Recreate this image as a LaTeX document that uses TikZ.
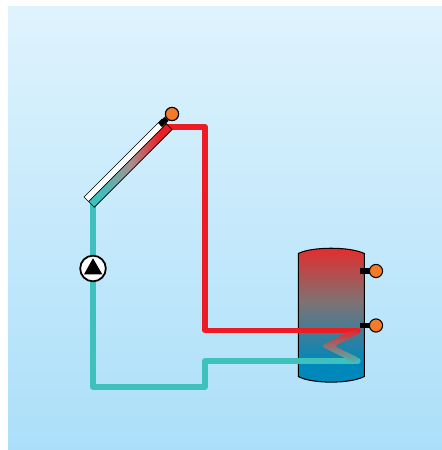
\documentclass[tikz,border=0pt]{standalone}
\usetikzlibrary{positioning, calc}
\definecolor{skytop}{HTML}{DFF3FD}
\definecolor{skybot}{HTML}{ABDFF9}
\definecolor{hotred}{HTML}{ED1C24}
\definecolor{coldteal}{HTML}{3EC0BC}
\definecolor{tankred}{HTML}{E62B2B}
\definecolor{tankgray}{HTML}{7F7272}
\definecolor{tankblue}{HTML}{0088BB}
\definecolor{coiltan}{HTML}{C49C68}
\definecolor{panelgray}{HTML}{A89090}
\definecolor{sensor}{HTML}{F47B2A}
\pgfdeclareverticalshading{tankshade}{100bp}{
  color(0bp)=(tankblue); color(33bp)=(tankblue);
  color(55bp)=(tankgray); color(75bp)=(tankred); color(100bp)=(tankred)}
\pgfdeclarehorizontalshading{panelshade}{100bp}{
  color(0bp)=(coldteal); color(32bp)=(coldteal);
  color(50bp)=(panelgray); color(68bp)=(hotred); color(100bp)=(hotred)}

\begin{document}
\begin{tikzpicture}[
  x=0.02cm, y=0.02cm,
  pipe/.style={draw=#1, line width=3.1pt, line join=round, line cap=round},
  probe/.style={circle, draw=black, line width=0.6pt, fill=sensor,
    minimum size=7.5pt, inner sep=0pt},
  stem/.style={draw=black, line width=3.2pt},
  pumpring/.style={circle, draw=black, line width=1pt, fill=white,
    minimum size=14.6pt, inner sep=0pt},
]
\useasboundingbox (0,0) rectangle (442,450);

% Background
\shade[top color=skytop, bottom color=skybot] (8,0) rectangle (442,443);

% =============================================
% Anchor points of the circuit
% =============================================
\coordinate (colin) at (93,245);
\coordinate (colout) at (168,323);
\coordinate (drop) at (205,119.5);
\coordinate (jog) at (205,63);
\coordinate (coilout) at (358,119.5);
\coordinate (coilin) at (358,89);

% =============================================
% Storage tank
% =============================================
\shade[draw=black, line width=0.6pt, shading=tankshade]
  (298.3,196.5) .. controls (312,203.5) and (350,203.5) .. (364.3,196.5)
  -- (364.3,73.5) .. controls (350,66) and (312,66) .. (298.3,73.5) -- cycle;

% =============================================
% Pipes
% =============================================
\draw[pipe=coldteal] (colin) |- (jog) |- (coilin);
\draw[pipe=hotred] (colout) -| (drop) -- (coilout);

% Coil
\shade[top color=hotred, middle color=coiltan, bottom color=coldteal, rounded corners=2pt]
  (356.7,122.2) -- (321,104) -- (356.8,86) -- (359.6,91.7)
  -- (334,104) -- (359.6,116.8) -- cycle;

% =============================================
% Collector
% =============================================
\begin{scope}[shift={(84,253)}, rotate=45]
  \fill[white] (0,0) rectangle (110,-6.5);
  \shade[shading=panelshade] (0,-6.5) rectangle (110,-14.5);
  \draw[black, line width=0.4pt] (0,0) rectangle (110,-14.5);
  \draw[black, line width=0.4pt] (0,-6.5) -- (110,-6.5);
\end{scope}

% Collector probe
\node[probe] (colprobe) at (172,336) {};
\draw[stem] (160,325) -- (colprobe);
\node[probe] at (colprobe) {};

% =============================================
% Pump
% =============================================
\node[pumpring] (pump) at (93,181.5) {};
\fill[black] (93,191.7) -- (102.3,175.7) -- (84,175.7) -- cycle;

% =============================================
% Tank probes
% =============================================
\coordinate (upport) at (360,179);
\coordinate (lowport) at (360,124.5);
\draw[stem] (upport) -- (376,179);
\draw[stem] (lowport) -- (376,124.5);
\node[probe] (upprobe) at (376,179) {};
\node[probe] (lowprobe) at (376,124.5) {};

\end{tikzpicture}
\end{document}
